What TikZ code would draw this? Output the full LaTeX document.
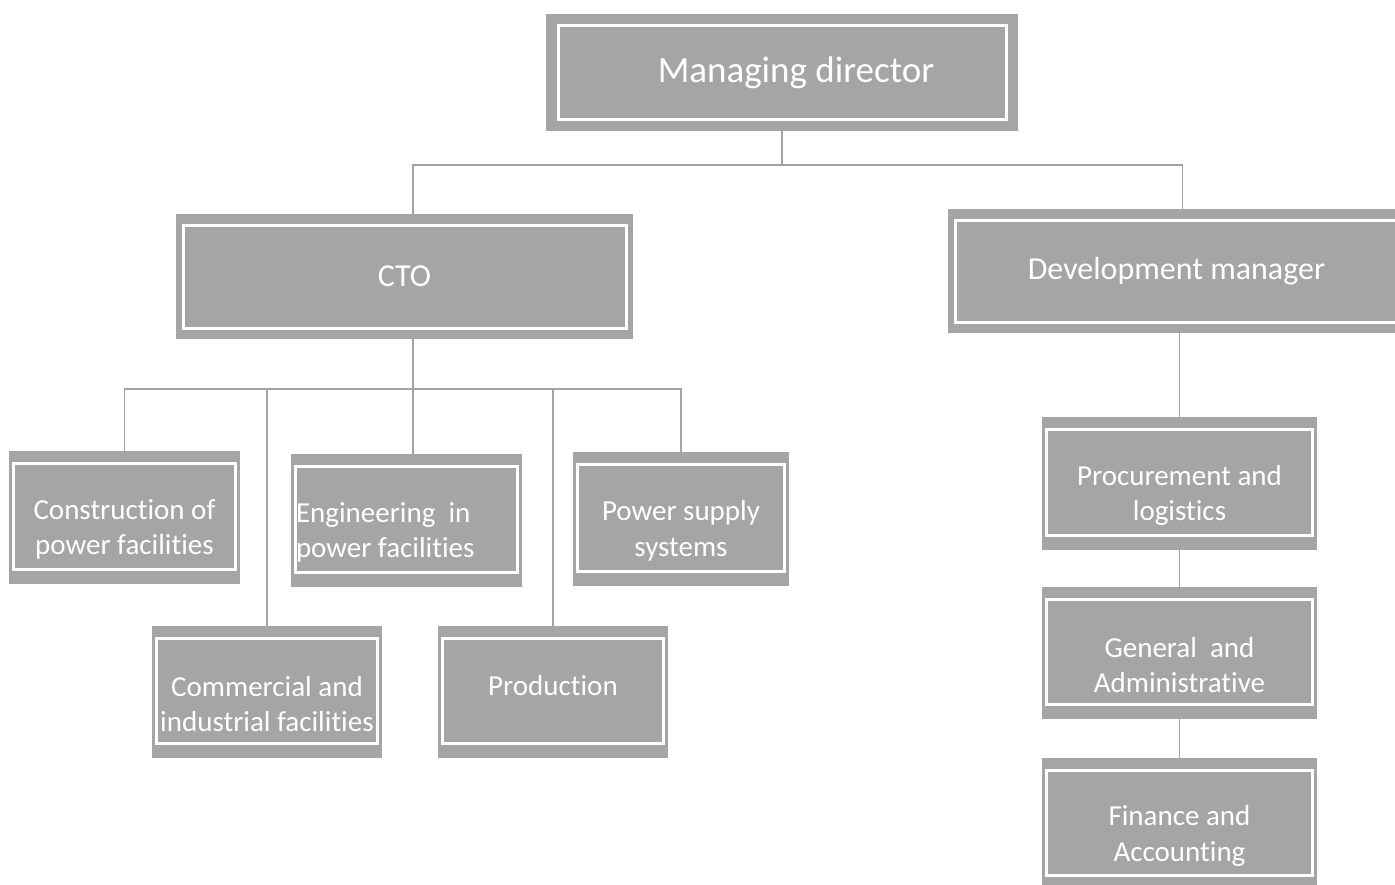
\documentclass[tikz,border=0pt]{standalone}
\usepackage{fontspec}
\setmainfont{Carlito}[Ligatures=NoCommon]
\usepackage{xcolor}
\definecolor{OrgGrey}{HTML}{A5A5A5}
\definecolor{OrgLine}{HTML}{A3A3A3}

\begin{document}
\begin{tikzpicture}[x=1pt, y=-1pt,
    framed/.style n args={3}{path picture={\draw[white, line width=3pt] ([xshift=#1, yshift=-#2]path picture bounding box.north west) rectangle ([xshift=-#1, yshift=#3]path picture bounding box.south east);}},
    orgbox/.style={fill=OrgGrey, text=white, inner sep=0pt, align=flush center},
    topbox/.style={orgbox, framed={12pt}{11pt}{12pt}, font=\fontsize{37}{44}\selectfont},
    headbox/.style={orgbox, framed={7pt}{11pt}{11pt}, font=\fontsize{32}{38}\selectfont},
    unitbox/.style={orgbox, framed={4.5pt}{12pt}{15pt}, font=\fontsize{29}{35.5}\selectfont},
    lowered/.style={text width=#1, execute at begin node={\rule{0pt}{44pt}}},
    link/.style={draw=OrgLine, line width=1.6pt}]
    \useasboundingbox (0,0) rectangle (1395,884);

    % management
    \node[topbox, minimum width=472pt, minimum height=117pt, text width=440pt, execute at begin node={\hspace*{28pt}}] (md) at (782,72.5) {Managing director};
    \node[headbox, minimum width=457pt, minimum height=125pt] (cto) at (404.5,276.5) {CTO};
    \node[headbox, minimum width=457pt, minimum height=124pt] (dev) at (1176.5,271) {Development manager};

    % units under the CTO
    \node[unitbox, lowered=231pt, minimum height=133pt] (con) at (124.5,517.5) {Construction of\\power facilities};
    \node[unitbox, lowered=221pt, minimum width=231pt, minimum height=133pt, align=flush left] (eng) at (406.5,520.5) {Engineering~ in\\power facilities};
    \node[unitbox, lowered=216pt, minimum height=134pt] (pow) at (681,519) {Power supply\\systems};
    \node[unitbox, lowered=230pt, minimum height=132pt] (com) at (267,692) {Commercial and\\industrial facilities};
    \node[unitbox, minimum width=230pt, minimum height=132pt, text depth=14pt] (prod) at (553,692) {Production};

    % units under the development manager
    \node[unitbox, lowered=275pt, minimum height=133pt] (proc) at (1179.5,483.5) {Procurement and\\logistics};
    \node[unitbox, lowered=275pt, minimum height=132pt] (gen) at (1179.5,653) {General~ and\\Administrative};
    \node[unitbox, lowered=275pt, minimum height=132pt] (fin) at (1179.5,824) {Finance and\\Accounting};

    % reporting lines
    \coordinate (topbus) at ([yshift=-34pt]md.south);
    \draw[link] (md.south) -- (topbus);
    \draw[link] ([xshift=8.5pt]cto.north) |- (topbus) -| ([xshift=6pt]dev.north);

    \coordinate (unitbus) at ([xshift=8.5pt, yshift=-50pt]cto.south);
    \draw[link] ([xshift=8.5pt]cto.south) -- (eng.north -| unitbus);
    \draw[link] (con.north) |- (pow.north |- unitbus) -- (pow.north);
    \foreach \unit in {com, prod}
        \draw[link] (unitbus -| \unit.north) -- (\unit.north);

    \draw[link] (dev.south -| proc.north) -- (proc.north);
    \draw[link] (proc) -- (gen);
    \draw[link] (gen) -- (fin);
\end{tikzpicture}
\end{document}
